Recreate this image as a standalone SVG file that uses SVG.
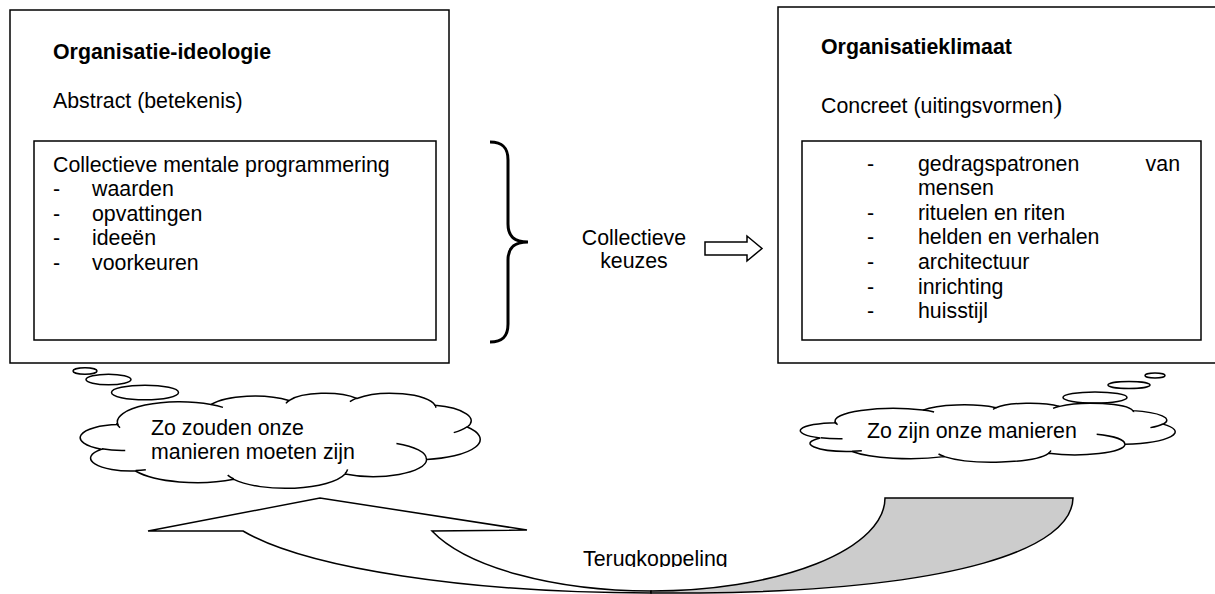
<svg xmlns="http://www.w3.org/2000/svg" width="1215" height="594" viewBox="0 0 1215 594">
<style>
.t{font-family:"Liberation Sans",Arial,sans-serif;font-size:21.33px;fill:#000}
.b{font-weight:bold}
.box{fill:#fff;stroke:#000;stroke-width:1.5}
.cl{fill:#fff;stroke:#000;stroke-width:1.5}
.cli{fill:none;stroke:#000;stroke-width:1.5}
.ln{fill:none;stroke:#000;stroke-width:1.5}
</style>
<defs>
<clipPath id="clipT"><rect x="570" y="530" width="180" height="37"/></clipPath>
</defs>
<rect width="1215" height="594" fill="#fff"/>

<g id="ideologie">
<rect class="box" x="10" y="10" width="439" height="353"/>
<text class="t b" x="53" y="59">Organisatie-ideologie</text>
<text class="t" x="53" y="108">Abstract (betekenis)</text>
<rect class="box" x="34" y="141" width="402" height="199"/>
<text class="t" x="53" y="171.5">Collectieve mentale programmering</text>
<text class="t" x="53" y="196">-</text><text class="t" x="92" y="196">waarden</text>
<text class="t" x="53" y="220.5">-</text><text class="t" x="92" y="220.5">opvattingen</text>
<text class="t" x="53" y="245">-</text><text class="t" x="92" y="245">ideeën</text>
<text class="t" x="53" y="270">-</text><text class="t" x="92" y="270">voorkeuren</text>
</g>

<g id="klimaat">
<rect class="box" x="778" y="7" width="440" height="356"/>
<text class="t b" x="821" y="54">Organisatieklimaat</text>
<text class="t" x="821" y="113">Concreet (uitingsvormen<tspan style="font-family:'Liberation Serif','Times New Roman',serif;font-size:26.7px">)</tspan></text>
<rect class="box" x="802" y="141" width="399" height="199"/>
<text class="t" x="867" y="170.5">-</text><text class="t" x="918" y="170.5">gedragspatronen</text><text class="t" x="1180" y="170.5" text-anchor="end">van</text>
<text class="t" x="918" y="195">mensen</text>
<text class="t" x="867" y="219.7">-</text><text class="t" x="918" y="219.7">rituelen en riten</text>
<text class="t" x="867" y="244.3">-</text><text class="t" x="918" y="244.3">helden en verhalen</text>
<text class="t" x="867" y="268.9">-</text><text class="t" x="918" y="268.9">architectuur</text>
<text class="t" x="867" y="293.5">-</text><text class="t" x="918" y="293.5">inrichting</text>
<text class="t" x="867" y="318.1">-</text><text class="t" x="918" y="318.1">huisstijl</text>
</g>

<g id="keuzes">
<text class="t" x="634" y="245" text-anchor="middle">Collectieve</text>
<text class="t" x="634" y="268" text-anchor="middle">keuzes</text>
</g>

<g id="cloud-ideaal">
<ellipse class="cl" cx="85" cy="371" rx="12" ry="3.3"/>
<ellipse class="cl" cx="108.5" cy="379.5" rx="22.5" ry="5.3"/>
<ellipse class="cl" cx="145" cy="392.5" rx="33.5" ry="7.3"/>
<g transform="translate(82 393) scale(0.0092130 0.0021991)">
<path class="cl" vector-effect="non-scaling-stroke" d="M3900 14370A6753 9190 0 0 1 14006 5203A5333 7267 0 0 1 22457 3433A4365 5945 0 0 1 29835 2485A4857 6595 0 0 1 38319 5583A5333 7273 0 0 1 41819 15466A6775 9220 0 0 1 37405 30209A5785 7867 0 0 1 28556 36819A6752 9215 0 0 1 16479 39267A7720 10543 0 0 1 5802 35473A4360 5918 0 0 1 2109 25553A4345 5945 0 0 1 3900 14370Z"/>
<path class="cli" vector-effect="non-scaling-stroke" d="M4693 26177A4345 5945 0 0 1 2159 25379M6928 34899A4360 5918 0 0 1 5819 35281M16478 39090A6752 9215 0 0 1 15812 37352M28827 34751A6752 9215 0 0 1 28560 36660M34129 22954A5785 7867 0 0 1 37381 30090M41798 15354A5333 7273 0 0 1 40350 18030M38324 5426A4857 6595 0 0 1 38400 6690M29078 3952A4857 6595 0 0 1 29821 2337M22141 4720A4365 5945 0 0 1 22500 3329M14000 5192A6753 9190 0 0 1 15299 6540M4127 15789A6753 9190 0 0 1 3763 13671"/>
</g>
<text class="t" x="151" y="434.5">Zo zouden onze</text>
<text class="t" x="151" y="458.5">manieren moeten zijn</text>
</g>

<g id="cloud-werkelijk">
<ellipse class="cl" cx="1155" cy="375.5" rx="10" ry="2.5"/>
<ellipse class="cl" cx="1129" cy="385" rx="21" ry="3.5"/>
<ellipse class="cl" cx="1095" cy="397.5" rx="32" ry="5.5"/>
<g transform="translate(802 403) scale(0.0086343 0.0013657)">
<path class="cl" vector-effect="non-scaling-stroke" d="M3900 14370A6753 9190 0 0 1 14006 5203A5333 7267 0 0 1 22457 3433A4365 5945 0 0 1 29835 2485A4857 6595 0 0 1 38319 5583A5333 7273 0 0 1 41819 15466A6775 9220 0 0 1 37405 30209A5785 7867 0 0 1 28556 36819A6752 9215 0 0 1 16479 39267A7720 10543 0 0 1 5802 35473A4360 5918 0 0 1 2109 25553A4345 5945 0 0 1 3900 14370Z"/>
<path class="cli" vector-effect="non-scaling-stroke" d="M4693 26177A4345 5945 0 0 1 2159 25379M6928 34899A4360 5918 0 0 1 5819 35281M16478 39090A6752 9215 0 0 1 15812 37352M28827 34751A6752 9215 0 0 1 28560 36660M34129 22954A5785 7867 0 0 1 37381 30090M41798 15354A5333 7273 0 0 1 40350 18030M38324 5426A4857 6595 0 0 1 38400 6690M29078 3952A4857 6595 0 0 1 29821 2337M22141 4720A4365 5945 0 0 1 22500 3329M14000 5192A6753 9190 0 0 1 15299 6540M4127 15789A6753 9190 0 0 1 3763 13671"/>
</g>
<text class="t" x="867" y="438">Zo zijn onze manieren</text>
</g>

<g id="connectors">
<path fill="none" stroke="#000" stroke-width="3" d="M490 142C503 142 508 148 508 160L508 224C508 236 514 242 528 242C514 242 508 248 508 260L508 324C508 336 503 342 490 342"/>
<path class="cl" d="M705 242L747 242L747 236L762 248.5L747 261L747 255L705 255Z"/>
<path class="cl" d="M243 531L148 531L320 498L527 530L432 531A234 93 0 0 0 651 591L651 593A435 95 0 0 1 243 531Z"/>
<path fill="#cccccc" stroke="#000" stroke-width="1.5" d="M651 591A234 93 0 0 0 885 498L1073 498C1072 548 960 590 700 593L651 593Z"/>
<text class="t" x="583" y="566" clip-path="url(#clipT)">Terugkoppeling</text>
</g>
</svg>
